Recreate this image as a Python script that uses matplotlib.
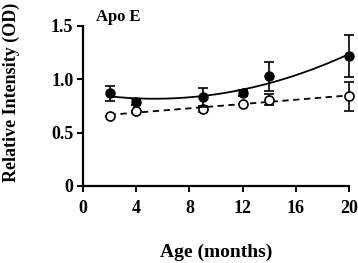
import numpy as np
import matplotlib
matplotlib.use("Agg")
import matplotlib.pyplot as plt

plt.rcParams['font.family'] = ['Liberation Serif', 'DejaVu Serif']
plt.rcParams['font.weight'] = 'bold'

age = [2, 4, 9, 12, 14, 20]
filled = [0.87, 0.79, 0.83, 0.87, 1.03, 1.22]
filled_err = [0.07, 0.03, 0.09, 0.03, 0.135, 0.20]
open_ = [0.66, 0.70, 0.72, 0.77, 0.81, 0.84]
open_err = [0.0, 0.0, 0.03, 0.0, 0.05, 0.135]

xticks = [0, 4, 8, 12, 16, 20]
yticks = [0, 0.5, 1.0, 1.5]
yticklabels = ['0', '0.5', '1.0', '1.5']

fig = plt.figure(figsize=(3.58, 2.63), dpi=100)
ax = fig.add_axes([83/358, 1-186/263, (349-83)/358, (186-26)/263])

xs = np.linspace(2, 20, 200)
pf = np.polyfit(age, filled, 2)
po = np.polyfit(age, open_, 1)
ax.plot(xs, np.polyval(pf, xs), color='black', lw=1.3, zorder=2, clip_on=False)
ax.plot(xs, np.polyval(po, xs), color='black', lw=1.3, ls=(0, (3.5, 2.5)), zorder=2, clip_on=False)

for cont in [
    ax.errorbar(age, open_, yerr=open_err, fmt='o', mfc='white', mec='black', mew=1.2,
                ms=6.5, ecolor='black', elinewidth=1.2, capsize=3.5, capthick=1.2, zorder=3),
    ax.errorbar(age, filled, yerr=filled_err, fmt='o', mfc='black', mec='black',
                ms=6.5, ecolor='black', elinewidth=1.2, capsize=3.5, capthick=1.2, zorder=4),
]:
    arts = [cont.lines[0]] + list(cont.lines[1]) + list(cont.lines[2])
    for art in arts:
        art.set_clip_on(False)

ax.set_xlim(0, 20)
ax.set_ylim(0, 1.5)
ax.set_xticks(xticks)
ax.set_xticklabels([str(t) for t in xticks])
ax.set_yticks(yticks)
ax.set_yticklabels(yticklabels)
ax.spines['top'].set_visible(False)
ax.spines['right'].set_visible(False)
for s in ['left', 'bottom']:
    ax.spines[s].set_linewidth(1.6)
ax.tick_params(axis='both', width=1.4, length=4, labelsize=13, direction='out')
ax.tick_params(axis='x', pad=6)
ax.tick_params(axis='y', pad=3)
for lab in ax.get_xticklabels() + ax.get_yticklabels():
    lab.set_fontweight('bold')

ax.set_xlabel('Age (months)', fontsize=14, fontweight='bold', va='center', ha='center')
ax.xaxis.set_label_coords(0.5, (186 - 252) / 160)
ax.set_ylabel('Relative Intensity (OD)', fontsize=13, fontweight='bold', va='center', ha='center')
ax.yaxis.set_label_coords((11 - 83) / 266, (186 - 92) / 160)
ax.text(1.0, 1.585, 'Apo E', fontsize=12, fontweight='bold', ha='left', va='center')

fig.savefig('out.png', dpi=100)
